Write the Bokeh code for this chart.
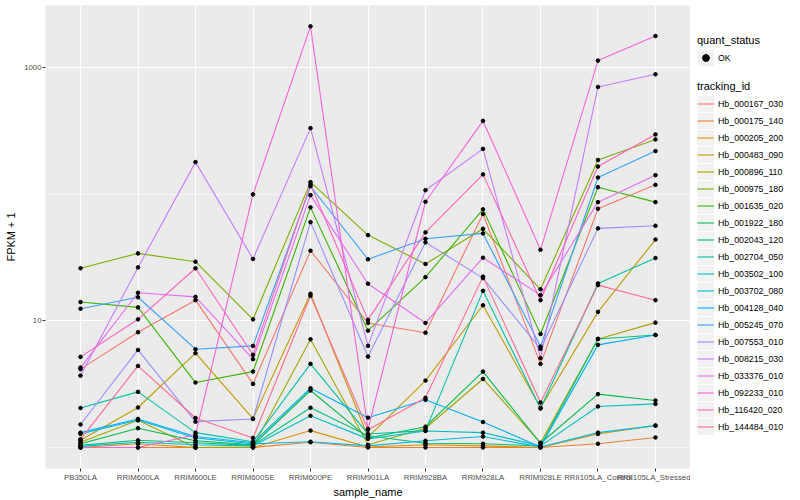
from bokeh.plotting import figure
from bokeh.layouts import row
from bokeh.models import (ColumnDataSource, FactorRange, Range1d, FixedTicker,
                          NumeralTickFormatter, Legend, LegendItem)
from bokeh.embed import file_html
from bokeh.resources import INLINE

samples = ["PB350LA", "RRIM600LA", "RRIM600LE", "RRIM600SE", "RRIM600PE", "RRIM901LA",
           "RRIM928BA", "RRIM928LA", "RRIM928LE", "RRII105LA_Control", "RRII105LA_Stressed"]

tracking_ids = ["Hb_000167_030", "Hb_000175_140", "Hb_000205_200", "Hb_000483_090",
                "Hb_000896_110", "Hb_000975_180", "Hb_001635_020", "Hb_001922_180",
                "Hb_002043_120", "Hb_002704_050", "Hb_003502_100", "Hb_003702_080",
                "Hb_004128_040", "Hb_005245_070", "Hb_007553_010", "Hb_008215_030",
                "Hb_033376_010", "Hb_092233_010", "Hb_116420_020", "Hb_144484_010"]

colors = ["#F8766D", "#EA8331", "#D89000", "#C09B00", "#A3A500", "#7CAE00", "#39B600",
          "#00BB4E", "#00BF7D", "#00C1A3", "#00BFC4", "#00BAE0", "#00B0F6", "#35A2FF",
          "#9590FF", "#C77CFF", "#E76BF3", "#FA62DB", "#FF62BC", "#FF6C90"]

# FPKM + 1 per sample (order of `samples`)
Hb_000167_030 = [4.16, 8.15, 14.6, 3.18, 35.9, 9.64, 8.08, 70.0, 4.58, 77.0, 119]
Hb_000175_140 = [1.0, 1.0, 1.0, 1.0, 1.10, 1.0, 1.0, 1.0, 1.0, 1.07, 1.20]
Hb_000205_200 = [1.0, 1.07, 1.0, 1.0, 1.36, 1.01, 1.05, 1.03, 1.0, 1.28, 1.49]
Hb_000483_090 = [1.14, 2.07, 5.56, 1.69, 16.4, 1.21, 3.38, 13.3, 2.06, 11.8, 44.0]
Hb_000896_110 = [1.10, 1.64, 1.0, 1.01, 7.17, 1.05, 1.42, 3.48, 1.09, 7.21, 9.7]
Hb_000975_180 = [26.1, 34.2, 29.4, 10.3, 125, 47.7, 28.2, 53.5, 17.8, 187, 272]
Hb_001635_020 = [14.1, 12.8, 3.26, 3.98, 79.0, 8.38, 22.2, 76.2, 7.89, 114, 86.9]
Hb_001922_180 = [1.07, 1.42, 1.13, 1.05, 2.82, 1.19, 1.46, 3.98, 1.08, 2.64, 2.35]
Hb_002043_120 = [1.04, 1.14, 1.09, 1.04, 2.06, 1.24, 1.08, 1.07, 1.03, 7.21, 7.75]
Hb_002704_050 = [2.05, 2.75, 1.31, 1.11, 4.58, 1.28, 1.36, 17.3, 2.03, 19.8, 31.4]
Hb_003502_100 = [1.02, 1.10, 1.05, 1.03, 1.78, 1.17, 1.35, 1.31, 1.03, 2.11, 2.21]
Hb_003702_080 = [1.28, 1.65, 1.19, 1.07, 1.11, 1.03, 1.13, 1.22, 1.01, 1.31, 1.49]
Hb_004128_040 = [1.31, 1.68, 1.22, 1.09, 2.94, 1.72, 2.38, 1.59, 1.01, 6.47, 7.75]
Hb_005245_070 = [12.5, 15.4, 5.98, 6.35, 116, 30.7, 44.6, 49.2, 6.27, 136, 220]
Hb_007553_010 = [1.52, 5.9, 1.60, 1.68, 60.4, 5.23, 41.8, 21.8, 6.01, 53.9, 56.5]
Hb_008215_030 = [3.7, 26.5, 180, 30.9, 334, 6.35, 108, 229, 5.08, 707, 890]
Hb_033376_010 = [4.28, 16.7, 15.5, 4.99, 98.7, 19.7, 9.64, 31.6, 16.0, 86.9, 142]
Hb_092233_010 = [1.0, 1.0, 1.26, 100, 2130, 1.4, 87.5, 381, 36.5, 1142, 1786]
Hb_116420_020 = [5.2, 10.3, 26.1, 5.4, 120, 10.2, 50.1, 144, 14.6, 166, 298]
Hb_144484_010 = [1.16, 4.41, 1.71, 1.19, 15.8, 1.38, 2.47, 22.4, 2.27, 19.2, 14.6]

series = [Hb_000167_030, Hb_000175_140, Hb_000205_200, Hb_000483_090, Hb_000896_110,
          Hb_000975_180, Hb_001635_020, Hb_001922_180, Hb_002043_120, Hb_002704_050,
          Hb_003502_100, Hb_003702_080, Hb_004128_040, Hb_005245_070, Hb_007553_010,
          Hb_008215_030, Hb_033376_010, Hb_092233_010, Hb_116420_020, Hb_144484_010]

quant_status = "OK"

FONT = "Liberation Sans"

p = figure(width=690, height=500, output_backend="svg", toolbar_location=None,
           title=None,
           x_range=FactorRange(factors=samples, range_padding=0.109,
                               range_padding_units="absolute"),
           y_axis_type="log", y_range=Range1d(10 ** -0.166, 10 ** 3.493),
           min_border_left=45, min_border_right=0, min_border_top=5,
           min_border_bottom=30)
p.background_fill_color = "#EBEBEB"
p.border_fill_color = "white"
p.outline_line_color = None

# grid
p.xgrid.grid_line_color = "white"
p.xgrid.grid_line_width = 1.1
p.ygrid.grid_line_color = "white"
p.ygrid.grid_line_width = 1.1
p.ygrid.minor_grid_line_color = "white"
p.ygrid.minor_grid_line_width = 0.55

# axes
p.yaxis.ticker = FixedTicker(ticks=[10, 1000], minor_ticks=[1, 100])
p.yaxis.formatter = NumeralTickFormatter(format="0")
for ax in (p.xaxis[0], p.yaxis[0]):
    ax.axis_line_color = None
    ax.major_tick_line_color = "#333333"
    ax.major_tick_out = 3
    ax.major_tick_in = 0
    ax.minor_tick_out = 0
    ax.minor_tick_in = 0
    ax.minor_tick_line_color = None
    ax.major_label_text_color = "#4D4D4D"
    ax.major_label_text_font = FONT
    ax.major_label_text_font_size = "7.8px"
    ax.major_label_standoff = 1
    ax.axis_label_text_font = FONT
    ax.axis_label_text_font_size = "11px"
    ax.axis_label_text_font_style = "normal"
    ax.axis_label_text_color = "black"
    ax.axis_label_standoff = 1
p.yaxis.axis_label_standoff = 4
p.xaxis.axis_label = "sample_name"
p.yaxis.axis_label = "FPKM + 1"

for name, col, vals in zip(tracking_ids, colors, series):
    src = ColumnDataSource(dict(sample=samples, fpkm=vals))
    p.line(x="sample", y="fpkm", source=src, line_color=col, line_width=1.1)

all_x = [s for vals in series for s in samples]
all_y = [v for vals in series for v in vals]
pt_src = ColumnDataSource(dict(sample=all_x, fpkm=all_y,
                               status=[quant_status] * len(all_x)))
p.scatter(x="sample", y="fpkm", source=pt_src, size=3.6, color="black")

# ---- legend panel (separate figure at the right) ----
lf = figure(width=110, height=500, output_backend="svg", toolbar_location=None,
            title=None, x_axis_location=None, y_axis_location=None,
            x_range=Range1d(0, 1), y_range=Range1d(0, 1),
            min_border_left=0, min_border_right=0, min_border_top=0,
            min_border_bottom=0)
lf.outline_line_color = None
lf.grid.visible = False
lf.background_fill_color = "white"
lf.border_fill_color = "white"

# legend-key helpers, placed outside the visible range
bg = lf.line(x=[5, 6], y=[5, 6], line_color="#F2F2F2", line_width=16)
key_pts = lf.scatter(x=[5], y=[5], size=3.6, color="black")
line_items = []
for name, col in zip(tracking_ids, colors):
    r = lf.line(x=[5, 6], y=[5, 6], line_color=col, line_width=1.1)
    line_items.append(LegendItem(label=name, renderers=[bg, r]))


def style_legend(lg):
    lg.padding = 0
    lg.margin = 0
    lg.spacing = 0
    lg.glyph_width = 17
    lg.glyph_height = 17
    lg.label_height = 17
    lg.label_standoff = 4
    lg.label_text_font = FONT
    lg.label_text_font_size = "8.8px"
    lg.label_text_color = "black"
    lg.title_text_font = FONT
    lg.title_text_font_size = "11px"
    lg.title_text_font_style = "normal"
    lg.title_text_color = "black"
    lg.title_standoff = 3
    lg.border_line_color = None
    lg.background_fill_alpha = 0


leg_q = Legend(items=[LegendItem(label=quant_status, renderers=[bg, key_pts])],
               title="quant_status", location=(7, 402))
style_legend(leg_q)
leg_t = Legend(items=line_items, title="tracking_id", location=(7, 33))
style_legend(leg_t)
lf.add_layout(leg_q, "center")
lf.add_layout(leg_t, "center")

layout = row(p, lf, spacing=0)
open("out.html", "w").write(file_html(layout, INLINE))
